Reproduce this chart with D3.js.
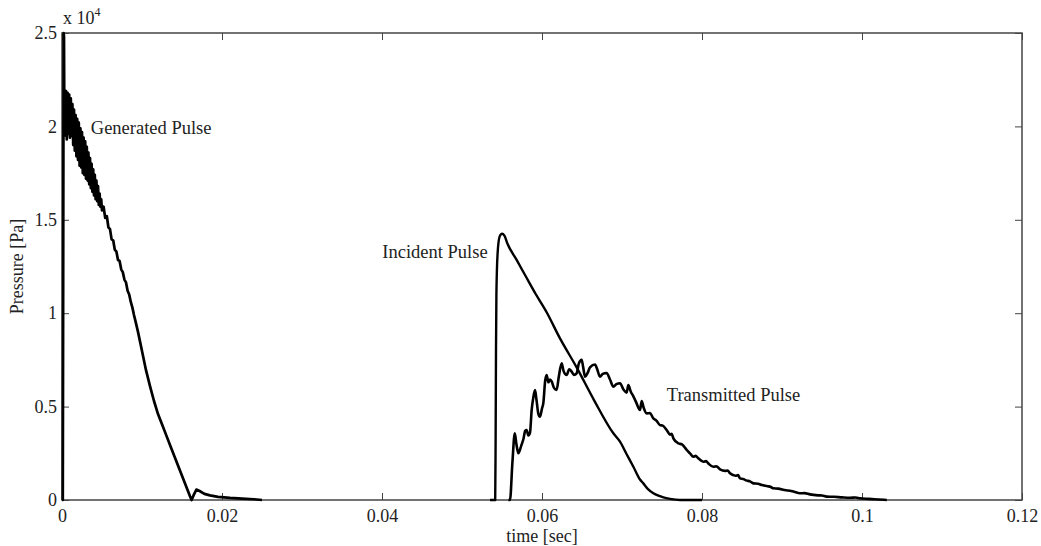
<!DOCTYPE html>
<html>
<head>
<meta charset="utf-8">
<script src="https://cdn.jsdelivr.net/npm/d3@7"></script>
<style>
  html, body { margin: 0; padding: 0; background: #fff; }
  svg { display: block; }
  text { font-family: "Liberation Serif", "DejaVu Serif", serif; fill: #222; }
</style>
</head>
<body>
<svg id="chart" width="1041" height="546"></svg>
<script>
// ---- data (time in s, pressure in Pa) ----
const xTicks = [0, 0.02, 0.04, 0.06, 0.08, 0.1, 0.12];
const xTickLabels = ["0", "0.02", "0.04", "0.06", "0.08", "0.1", "0.12"];
const yTicks = [0, 5000, 10000, 15000, 20000, 25000];
const yTickLabels = ["0", "0.5", "1", "1.5", "2", "2.5"];

const generatedT = [0,0.0001,0.00015,0.0002,0.00025,0.0003,0.0004,0.0005,0.0006,0.0007,0.0008,0.0009,0.001,0.0011,0.0012,0.0013,0.0014,0.0015,0.0016,0.0017,0.0018,0.0019,0.002,0.0021,0.0022,0.0023,0.0024,0.0025,0.0026,0.0027,0.0028,0.0029,0.003,0.0031,0.0032,0.0033,0.0034,0.0035,0.0036,0.0037,0.0038,0.0039,0.004,0.0041,0.0042,0.0043,0.0044,0.0045,0.0046,0.0047,0.0048,0.0049,0.005,0.0052,0.0054,0.0056,0.0058,0.006,0.0062,0.0064,0.0066,0.0068,0.007,0.0072,0.0074,0.0076,0.0078,0.008,0.0082,0.0084,0.0086,0.0088,0.009,0.0092,0.0095,0.01,0.0105,0.011,0.0115,0.012,0.0125,0.013,0.0135,0.014,0.0145,0.015,0.0155,0.016,0.0162,0.0165,0.0168,0.0172,0.0178,0.0185,0.0195,0.021,0.0225,0.024,0.025];
const generatedP = [0,0,12000,25000,24800,19500,21800,21900,19300,21800,19600,21700,19400,21500,19500,21200,19000,20900,18700,20600,18400,20400,18200,20200,17900,19900,17800,19700,17500,19400,17400,19200,17200,18900,17100,18600,16900,18300,16700,18000,16500,17700,16300,17400,16100,17100,16000,16800,15800,16400,15700,16100,15500,15700,15100,15200,14600,14500,13950,13900,13400,13300,12850,12800,12350,12200,11800,11650,11200,11000,10600,10300,9900,9550,9000,7980,6950,6100,5300,4600,4050,3500,2950,2400,1850,1300,750,200,0,300,560,480,330,250,170,110,70,40,0];

const incidentT = [0.0535,0.05415,0.0542,0.05425,0.0543,0.05445,0.0547,0.055,0.0553,0.0557,0.05683,0.058,0.05925,0.06058,0.06225,0.06433,0.0665,0.06892,0.06975,0.07058,0.07142,0.07225,0.07267,0.07325,0.07392,0.07455,0.07517,0.07600,0.07725,0.08];
const incidentP = [0,0,3000,8000,11000,13200,14100,14250,14150,13700,12850,11950,11000,10050,8650,7100,5350,3570,3120,2450,1780,1100,890,580,360,230,140,60,0,0];

const transmittedT = [0.0558,0.056,0.0563,0.0566,0.0568,0.05704,0.0574,0.05767,0.0579,0.05808,0.0583,0.0585,0.05871,0.05892,0.05913,0.0593,0.05955,0.05975,0.06,0.06017,0.0604,0.06058,0.0608,0.061,0.06121,0.0615,0.06183,0.0621,0.06246,0.0627,0.06308,0.0634,0.06371,0.064,0.06433,0.0646,0.06496,0.06515,0.06538,0.0657,0.066,0.06663,0.0669,0.06725,0.0676,0.06808,0.0685,0.06892,0.0693,0.06975,0.0702,0.07058,0.07079,0.0711,0.07142,0.0718,0.07204,0.07225,0.07246,0.0727,0.07308,0.0735,0.07392,0.0743,0.07475,0.0751,0.07558,0.076,0.0762,0.07642,0.07704,0.0775,0.07808,0.0785,0.07892,0.0792,0.0795,0.08017,0.0805,0.0808,0.08142,0.0818,0.08225,0.0829,0.0832,0.0835,0.0842,0.0845,0.08475,0.0852,0.0855,0.086,0.08642,0.087,0.0875,0.0882,0.0886,0.08892,0.0895,0.0905,0.091,0.0915,0.09225,0.0928,0.0935,0.0945,0.095,0.09558,0.0965,0.0975,0.0985,0.0992,0.09975,0.1008,0.1015,0.1031];
const transmittedP = [0,0,2000,3570,3000,2500,2900,3250,3700,3750,3450,3600,4820,5500,5890,5400,4600,4460,4900,5200,6400,6690,6300,6450,6350,6000,5890,6600,7320,6900,6690,7000,6870,6700,6780,7300,7500,7100,6600,6800,7100,7250,7000,6600,6750,6800,6450,6070,6200,6250,5900,5750,6150,5800,5550,5200,4950,4820,5300,4950,4640,4650,4370,4250,4010,3980,3750,3500,3550,3300,3030,2980,2680,2500,2320,2360,2250,2050,2080,1950,1780,1800,1640,1560,1580,1430,1300,1330,1160,1120,1050,1000,890,870,800,740,700,625,610,520,500,440,360,370,300,250,240,180,170,140,120,130,90,60,40,0];

const labels = [
  {text: "Generated Pulse", t: 0.0036, p: 19950, anchor: "start"},
  {text: "Incident Pulse", t: 0.0532, p: 13300, anchor: "end"},
  {text: "Transmitted Pulse", t: 0.0756, p: 5650, anchor: "start"}
];

// ---- layout ----
const svg = d3.select("#chart");
const pL = 62, pT = 33, pR = 1022, pB = 500;
const x = d3.scaleLinear().domain([0, 0.12]).range([pL, pR]);
const y = d3.scaleLinear().domain([0, 25000]).range([pB, pT]);
const axisColor = "#444";
const tickFont = 18;
const labelFont = 18.5;
const tickLen = 7;

// frame
svg.append("rect").attr("x", pL).attr("y", pT)
  .attr("width", pR - pL).attr("height", pB - pT)
  .attr("fill", "none").attr("stroke", axisColor).attr("stroke-width", 1.5);

// axes via d3 axis generators (inward ticks)
const fmtX = (d, i) => xTickLabels[i];
const fmtY = (d, i) => yTickLabels[i];

const gx = svg.append("g").attr("transform", `translate(0,${pB})`)
  .call(d3.axisBottom(x).tickValues(xTicks).tickFormat(fmtX).tickSizeInner(-tickLen).tickSizeOuter(0).tickPadding(9));
const gxt = svg.append("g").attr("transform", `translate(0,${pT})`)
  .call(d3.axisTop(x).tickValues(xTicks).tickFormat("").tickSizeInner(-tickLen).tickSizeOuter(0));
const gy = svg.append("g").attr("transform", `translate(${pL},0)`)
  .call(d3.axisLeft(y).tickValues(yTicks).tickFormat(fmtY).tickSizeInner(-tickLen).tickSizeOuter(0).tickPadding(5));
const gyr = svg.append("g").attr("transform", `translate(${pR},0)`)
  .call(d3.axisRight(y).tickValues(yTicks).tickFormat("").tickSizeInner(-tickLen).tickSizeOuter(0));

[gx, gxt, gy, gyr].forEach(g => {
  g.select(".domain").remove();
  g.selectAll(".tick line").attr("stroke", axisColor).attr("stroke-width", 1);
  g.selectAll(".tick text").attr("font-family", "Liberation Serif, serif")
    .attr("font-size", tickFont).attr("fill", "#222");
});
gx.selectAll(".tick text").attr("dy", "0.72em");

// curves
const lineLin = d3.line().x(d => x(d[0])).y(d => y(d[1]));
const lineSmooth = d3.line().x(d => x(d[0])).y(d => y(d[1])).curve(d3.curveMonotoneX);
const series = [
  {pts: d3.zip(generatedT, generatedP), gen: lineLin, w: 2.7},
  {pts: d3.zip(incidentT, incidentP), gen: lineSmooth, w: 2.4},
  {pts: d3.zip(transmittedT, transmittedP), gen: lineSmooth, w: 2.6}
];
svg.append("g").selectAll("path").data(series).join("path")
  .attr("d", d => d.gen(d.pts)).attr("fill", "none").attr("stroke", "#000")
  .attr("stroke-width", d => d.w).attr("stroke-linejoin", "round");

// annotations
svg.append("g").selectAll("text").data(labels).join("text")
  .attr("x", d => x(d.t)).attr("y", d => y(d.p))
  .attr("dy", "0.35em").attr("text-anchor", d => d.anchor)
  .attr("font-size", labelFont).text(d => d.text);

// exponent label
const ex = svg.append("text").attr("x", pL + 1).attr("y", 24).attr("font-size", tickFont);
ex.append("tspan").text("x 10");
ex.append("tspan").attr("font-size", 12).attr("dy", -8).text("4");

// axis titles
svg.append("text").attr("x", 542).attr("y", 542)
  .attr("text-anchor", "middle").attr("font-size", tickFont).text("time [sec]");
svg.append("text").attr("transform", `translate(23,${(pT + pB) / 2}) rotate(-90)`)
  .attr("text-anchor", "middle").attr("font-size", tickFont).text("Pressure [Pa]");
</script>
</body>
</html>
